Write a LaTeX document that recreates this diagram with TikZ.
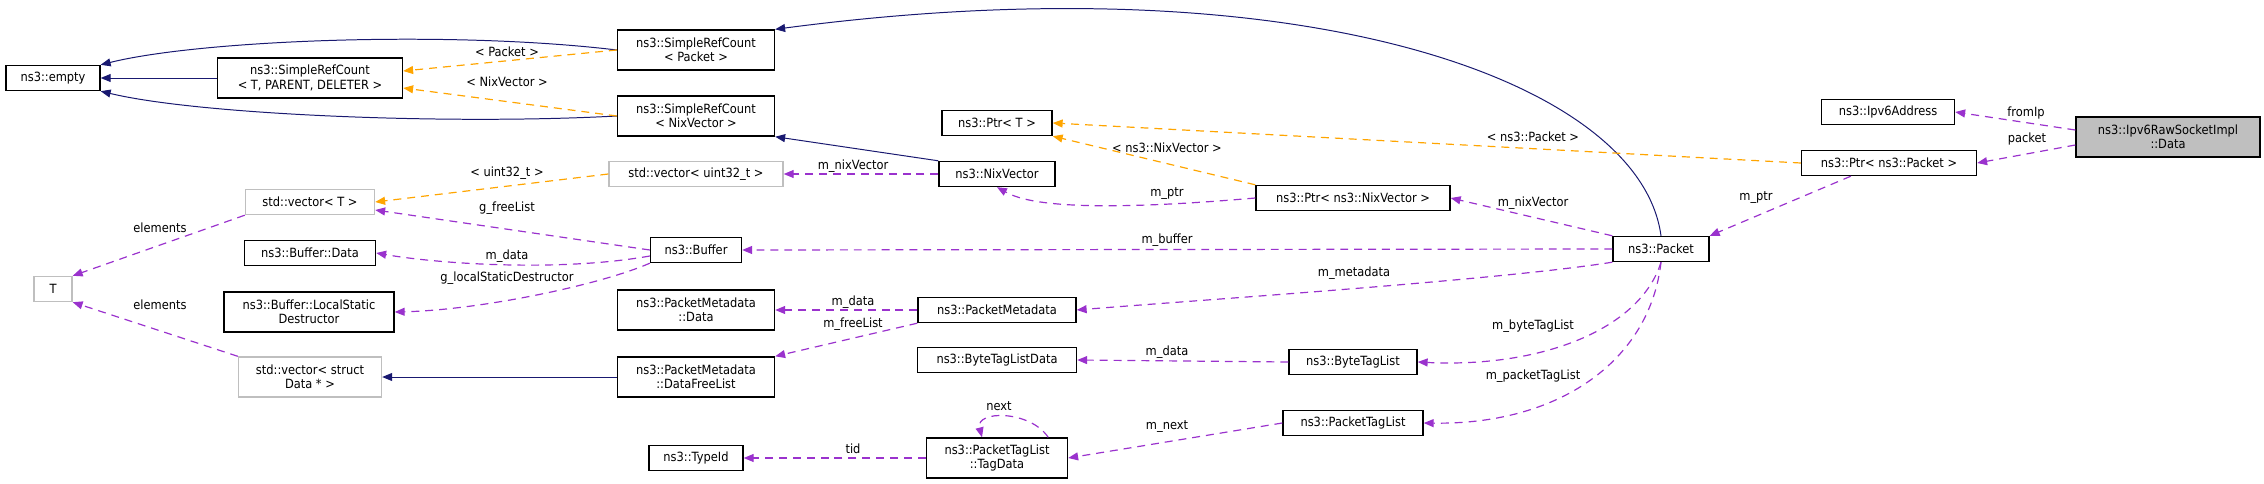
\documentclass[tikz,border=0pt]{standalone}
\usepackage{fontspec}
\setmainfont{DejaVu Sans}[FakeStretch=0.9]
\usepackage{xcolor}
\usetikzlibrary{arrows.meta,calc}
\definecolor{dxnavy}{RGB}{25,25,112}
\definecolor{dxorange}{RGB}{255,165,0}
\definecolor{dxpurple}{RGB}{154,50,205}
\definecolor{dxgray}{RGB}{191,191,191}
\definecolor{dxfill}{RGB}{191,191,191}

\begin{document}
\begin{tikzpicture}[
    x=0.0177cm, y=-0.0177cm,
    every node/.style={font=\fontsize{6.4}{7.3}\selectfont},
    cls/.style={rectangle, draw=black, line width=0.7pt, fill=white, align=center, inner sep=0pt, minimum width=#1*0.0177cm, minimum height=25*0.0177cm},
    cls2/.style={cls=#1, minimum height=40*0.0177cm},
    ext/.style={cls=#1, draw=dxgray},
    ext2/.style={cls2=#1, draw=dxgray},
    lbl/.style={inner sep=0pt},
    inherit/.style={-{Triangle[length=5pt,width=4pt]}, dxnavy, line width=0.5pt},
    templ/.style={-{Triangle[length=5pt,width=4pt]}, dxorange, dashed, dash pattern=on 4pt off 3pt, line width=0.6pt},
    uses/.style={-{Triangle[length=5pt,width=4pt]}, dxpurple, dashed, dash pattern=on 4pt off 3pt, line width=0.6pt}
]
\useasboundingbox (0,0) rectangle (2264,484);

% Left column
\node[cls=94] (empty) at (53,78) {ns3::empty};
\node[ext=38] (T) at (53,289) {T};
\node[cls2=185] (srcT) at (310,78) {ns3::SimpleRefCount\\< T, PARENT, DELETER >};
\node[ext=129] (vecT) at (310,202) {std::vector< T >};
\node[cls=131] (bufData) at (310,253) {ns3::Buffer::Data};
\node[cls2=170] (bufLsd) at (309,312) {ns3::Buffer::LocalStatic\\Destructor};
\node[ext2=143] (vecData) at (310,377) {std::vector< struct\\Data * >};

% Second column
\node[cls2=157] (srcPacket) at (696,50) {ns3::SimpleRefCount\\< Packet >};
\node[cls2=157] (srcNix) at (696,116) {ns3::SimpleRefCount\\< NixVector >};
\node[ext=174] (vecU32) at (696,174) {std::vector< uint32\_t >};
\node[cls=91] (buffer) at (696,250) {ns3::Buffer};
\node[cls2=157] (pmData) at (696,310) {ns3::PacketMetadata\\::Data};
\node[cls2=157] (pmFree) at (696,377) {ns3::PacketMetadata\\::DataFreeList};
\node[cls=94] (typeId) at (696,458) {ns3::TypeId};

% Third column
\node[cls=110] (ptrT) at (997,123) {ns3::Ptr< T >};
\node[cls=116] (nixVector) at (997,174) {ns3::NixVector};
\node[cls=158] (metadata) at (997,310) {ns3::PacketMetadata};
\node[cls=159] (btlData) at (997,360) {ns3::ByteTagListData};
\node[cls2=141] (tagData) at (997,458) {ns3::PacketTagList\\::TagData};

% Fourth column
\node[cls=194] (ptrNix) at (1353,198) {ns3::Ptr< ns3::NixVector >};
\node[cls=128] (byteTags) at (1353,362) {ns3::ByteTagList};
\node[cls=140] (packetTags) at (1353,423) {ns3::PacketTagList};

% Right side
\node[cls=96] (packet) at (1661,249) {ns3::Packet};
\node[cls=133] (ipv6Addr) at (1888,112) {ns3::Ipv6Address};
\node[cls=175] (ptrPacket) at (1889,163) {ns3::Ptr< ns3::Packet >};
\node[cls2=184, fill=dxfill] (rawData) at (2168,137) {ns3::Ipv6RawSocketImpl\\::Data};

% Inheritance
\draw[inherit] (srcT) -- (empty);
\draw[inherit] (srcPacket.west) .. controls (450,30) and (200,40) .. (empty.north east);
\draw[inherit] (srcNix.west) .. controls (450,125) and (200,115) .. (empty.south east);
\draw[inherit] (packet.north) .. controls (1640,80) and (1300,-40) .. (srcPacket.north east);
\draw[inherit] (nixVector.north west) -- (srcNix.south east);
\draw[inherit] (pmFree) -- (vecData);

% Template arguments
\draw[templ] (srcPacket.west) -- (srcT.east |- 0,71);
\draw[templ] (srcNix.west) -- (srcT.east |- 0,88);
\draw[templ] (vecU32.west) -- (vecT.east);
\draw[templ] (ptrNix.north west) -- (ptrT.south east);
\draw[templ] (ptrPacket.west) -- (ptrT.east);

% Members
\draw[uses] (vecT.south west) -- (T.north east);
\draw[uses] (vecData.north west) -- (T.south east);
\draw[uses] (buffer.west) -- (vecT.east |- 0,210);
\draw[uses] (buffer.west |- 0,256) .. controls (560,272) and (440,264) .. (bufData.east);
\draw[uses] (buffer.south west) .. controls (600,285) and (480,310) .. (bufLsd.east);
\draw[uses] (nixVector.west) -- (vecU32.east);
\draw[uses] (ptrNix.west) .. controls (1060,215) and (1020,200) .. (nixVector.south);
\draw[uses] (packet.north west) -- (ptrNix.east);
\draw[uses] (packet.west) -- (buffer.east);
\draw[uses] (packet.south west) .. controls (1500,280) and (1200,300) .. (metadata.east);
\draw[uses] (metadata.west) -- (pmData.east |- 0,310);
\draw[uses] (metadata.south west) -- (pmFree.north east);
\draw[uses] (byteTags.west) -- (btlData.east);
\draw[uses] (packet.south) .. controls (1640,330) and (1540,368) .. (byteTags.east);
\draw[uses] (packet.south) .. controls (1650,360) and (1560,425) .. (packetTags.east);
\draw[uses] (packetTags.west) -- (tagData.east);
\draw[uses] (tagData.north east) ++(-20,0) coordinate (loopA)
    .. controls (1030,410) and (975,410) .. ($(tagData.north)+(-15,0)$);
\draw[uses] (tagData.west) -- (typeId.east);
\draw[uses] (ptrPacket.south west) ++(50,0) coordinate (ptrFoot) -- (packet.north east);
\draw[uses] (rawData.west |- 0,130) -- (ipv6Addr.east);
\draw[uses] (rawData.west |- 0,145) -- (ptrPacket.east);

% Labels
\node[lbl] (lPacket) at (507,52) {< Packet >};
\node[lbl] (lNix) at (507,82) {< NixVector >};
\node[lbl] (lU32) at (507,173) {< uint32\_t >};
\node[lbl] (lFree) at (507,208) {g\_freeList};
\node[lbl] (lData) at (507,256) {m\_data};
\node[lbl] (lLsd) at (507,278) {g\_localStaticDestructor};
\node[lbl] (lElemA) at (160,228) {elements};
\node[lbl] (lElemB) at (160,305) {elements};
\node[lbl] (lNixA) at (853,166) {m\_nixVector};
\node[lbl] (lPtrNix) at (1167,148) {< ns3::NixVector >};
\node[lbl] (lPtrA) at (1167,194) {m\_ptr};
\node[lbl] (lPtrPkt) at (1533,137) {< ns3::Packet >};
\node[lbl] (lNixB) at (1533,203) {m\_nixVector};
\node[lbl] (lBuffer) at (1167,240) {m\_buffer};
\node[lbl] (lMeta) at (1354,273) {m\_metadata};
\node[lbl] (lPmData) at (853,302) {m\_data};
\node[lbl] (lPmFree) at (853,324) {m\_freeList};
\node[lbl] (lBtlData) at (1167,352) {m\_data};
\node[lbl] (lByte) at (1533,326) {m\_byteTagList};
\node[lbl] (lPktTag) at (1533,376) {m\_packetTagList};
\node[lbl] (lNextLoop) at (999,406) {next};
\node[lbl] (lNext) at (1167,427) {m\_next};
\node[lbl] (lTid) at (853,449) {tid};
\node[lbl] (lFromIp) at (2026,113) {fromIp};
\node[lbl] (lPkt) at (2027,139) {packet};
\node[lbl] (lPtrB) at (1756,198) {m\_ptr};

\end{tikzpicture}
\end{document}
